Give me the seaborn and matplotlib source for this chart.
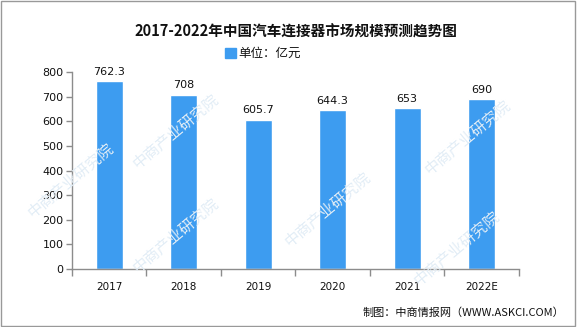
import matplotlib
matplotlib.use("Agg")
import matplotlib.pyplot as plt
import matplotlib.patches as mpatches
from matplotlib.ticker import FixedLocator, NullFormatter
import seaborn as sns
import pandas as pd

years = ["2017", "2018", "2019", "2020", "2021", "2022E"]
values = [762.3, 708, 605.7, 644.3, 653, 690]
value_labels = ["762.3", "708", "605.7", "644.3", "653", "690"]
yticks = [0, 100, 200, 300, 400, 500, 600, 700, 800]

title = "2017-2022年中国汽车连接器市场规模预测趋势图"
legend_label = "单位：亿元"
source = "制图：中商情报网（WWW.ASKCI.COM）"
watermark = "中商产业研究院"

sns.set_theme(style="white")
plt.rcParams["font.family"] = ["Noto Sans CJK SC", "DejaVu Sans"]

bar_color = "#3d9cf0"
spine_color = "#8c8c8c"

df = pd.DataFrame({"year": years, "value": values})

fig = plt.figure(figsize=(5.85, 3.27), dpi=100)
ax = fig.add_axes([0.123, 0.177, 0.764, 0.603])

# faint diagonal watermarks behind the chart
for wx, wy in [(0.30, 0.60), (0.56, 0.36), (0.80, 0.58),
               (0.30, 0.28), (0.78, 0.24), (0.12, 0.45)]:
    fig.text(wx, wy, watermark, rotation=40, fontsize=11, color="#e2edf6",
             ha="center", va="center", zorder=0)

sns.barplot(data=df, x="year", y="value", color=bar_color, width=0.36,
            saturation=1, ax=ax, zorder=2)

for i, (v, lab) in enumerate(zip(values, value_labels)):
    ax.text(i, v + 18, lab, ha="center", va="bottom", fontsize=8,
            color="#111111", family="DejaVu Sans", zorder=5)

ax.set_xlim(-0.5, len(years) - 0.5)
ax.set_ylim(0, 800)
ax.set_yticks(yticks)
ax.set_yticklabels([str(t) for t in yticks], fontsize=8, family="DejaVu Sans",
                   color="#111111")
ax.set_xticks(range(len(years)))
ax.set_xticklabels(years, fontsize=7.5, family="DejaVu Sans", color="#111111")
ax.tick_params(axis="x", which="major", length=0, pad=9)
ax.xaxis.set_minor_locator(FixedLocator([i - 0.5 for i in range(len(years) + 1)]))
ax.xaxis.set_minor_formatter(NullFormatter())
ax.tick_params(axis="x", which="minor", length=5, color=spine_color, width=1,
               direction="out", bottom=True)
ax.tick_params(axis="y", length=4, color=spine_color, width=1, direction="out",
               left=True, pad=2)
ax.set_xlabel("")
ax.set_ylabel("")
for side in ["top", "right"]:
    ax.spines[side].set_visible(False)
for side in ["left", "bottom"]:
    ax.spines[side].set_color(spine_color)
    ax.spines[side].set_linewidth(1)
ax.patch.set_alpha(0)

fig.text(0.505, 0.905, title, ha="center", va="center", fontsize=10.5,
         fontweight="bold", color="#111111")
fig.patches.append(mpatches.Rectangle((0.385, 0.822), 0.018, 0.032,
                                      transform=fig.transFigure,
                                      color=bar_color, figure=fig))
fig.text(0.408, 0.838, legend_label, ha="left", va="center", fontsize=9,
         color="#111111")
fig.text(0.965, 0.045, source, ha="right", va="center", fontsize=8,
         color="#111111")

fig.patches.append(mpatches.Rectangle((0.002, 0.004), 0.981, 0.992,
                                      transform=fig.transFigure, fill=False,
                                      edgecolor="#999999", linewidth=1, figure=fig))

fig.savefig("out.png", dpi=100)
